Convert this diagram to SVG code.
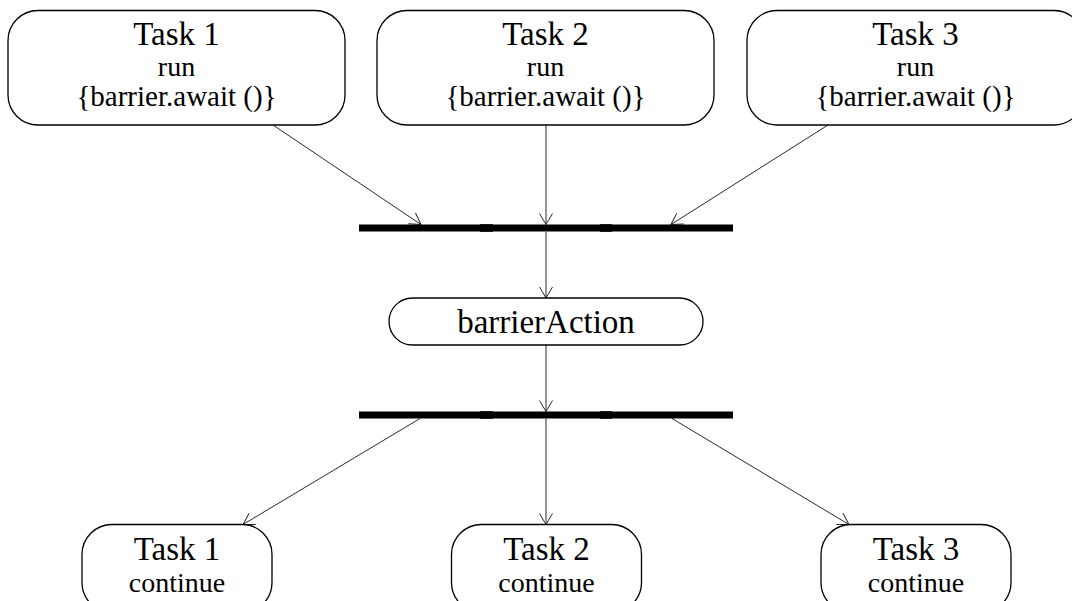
<svg xmlns="http://www.w3.org/2000/svg" width="1072" height="601" viewBox="0 0 1072 601">
  <style>
    .box { fill: #ffffff; stroke: #000000; stroke-width: 1.3; }
    .bar { fill: #000000; }
    .title { font-family: 'Liberation Serif', serif; font-size: 33px; fill: #000000; text-anchor: middle; }
    .sub { font-family: 'Liberation Serif', serif; font-size: 28px; fill: #000000; text-anchor: middle; }
    .code { font-family: 'Liberation Serif', serif; font-size: 29px; fill: #000000; text-anchor: middle; }
    .edge { fill: none; stroke: #2a2a2a; stroke-width: 1; marker-end: url(#arrow); }
  </style>
  <defs>
    <!-- open V arrowhead -->
    <marker id="arrow" markerUnits="userSpaceOnUse" markerWidth="16" markerHeight="16" viewBox="-13 -8 14 16" refX="0" refY="0" orient="auto">
      <path d="M-11,-6.5 L0,0 L-11,6.5" fill="none" stroke="#2a2a2a" stroke-width="1"/>
    </marker>
  </defs>

  <rect width="1072" height="601" fill="#ffffff"/>

  <!-- connectors -->
  <g id="connectors">
    <line class="edge" x1="273" y1="125" x2="421" y2="224.5"/>
    <line class="edge" x1="546" y1="125" x2="546" y2="224.5"/>
    <line class="edge" x1="828" y1="125" x2="671" y2="224.5"/>
    <line class="edge" x1="546" y1="232" x2="546" y2="298"/>
    <line class="edge" x1="546" y1="345" x2="546" y2="411.5"/>
    <line class="edge" x1="420" y1="418.5" x2="243" y2="524.5"/>
    <line class="edge" x1="546" y1="418.5" x2="546" y2="524.5"/>
    <line class="edge" x1="672" y1="418.5" x2="849" y2="524.5"/>
  </g>

  <!-- synchronisation bars -->
  <g id="barrier">
    <rect class="bar" x="359" y="224.5" width="374" height="7"/>
    <rect class="bar" x="480" y="224.2" width="13" height="7.6"/>
    <rect class="bar" x="600" y="224.2" width="12" height="7.6"/>
  </g>
  <g id="release">
    <rect class="bar" x="359" y="411.5" width="374" height="7"/>
    <rect class="bar" x="480" y="411.2" width="13" height="7.6"/>
    <rect class="bar" x="600" y="411.2" width="12" height="7.6"/>
  </g>

  <!-- running tasks -->
  <g id="task1-run">
    <rect class="box" x="8" y="10.5" width="337" height="114.5" rx="30" ry="30"/>
    <text class="title" x="176.5" y="45">Task 1</text>
    <text class="sub" x="176.5" y="76">run</text>
    <text class="code" x="176.5" y="106">{barrier.await ()}</text>
  </g>
  <g id="task2-run">
    <rect class="box" x="377" y="10.5" width="337" height="114.5" rx="30" ry="30"/>
    <text class="title" x="545.5" y="45">Task 2</text>
    <text class="sub" x="545.5" y="76">run</text>
    <text class="code" x="545.5" y="106">{barrier.await ()}</text>
  </g>
  <g id="task3-run">
    <rect class="box" x="747" y="10.5" width="337" height="114.5" rx="30" ry="30"/>
    <text class="title" x="915.5" y="45">Task 3</text>
    <text class="sub" x="915.5" y="76">run</text>
    <text class="code" x="915.5" y="106">{barrier.await ()}</text>
  </g>

  <!-- barrier action -->
  <g id="barrier-action">
    <rect class="box" x="389" y="298" width="314" height="47" rx="23.5" ry="23.5"/>
    <text class="title" x="546" y="333" font-size="33.5">barrierAction</text>
  </g>

  <!-- continuing tasks -->
  <g id="task1-continue">
    <rect class="box" x="82" y="524.5" width="190" height="88" rx="30" ry="30"/>
    <text class="title" x="177" y="560">Task 1</text>
    <text class="sub" x="177" y="591.5">continue</text>
  </g>
  <g id="task2-continue">
    <rect class="box" x="451.5" y="524.5" width="190" height="88" rx="30" ry="30"/>
    <text class="title" x="546.5" y="560">Task 2</text>
    <text class="sub" x="546.5" y="591.5">continue</text>
  </g>
  <g id="task3-continue">
    <rect class="box" x="821" y="524.5" width="190" height="88" rx="30" ry="30"/>
    <text class="title" x="916" y="560">Task 3</text>
    <text class="sub" x="916" y="591.5">continue</text>
  </g>
</svg>
